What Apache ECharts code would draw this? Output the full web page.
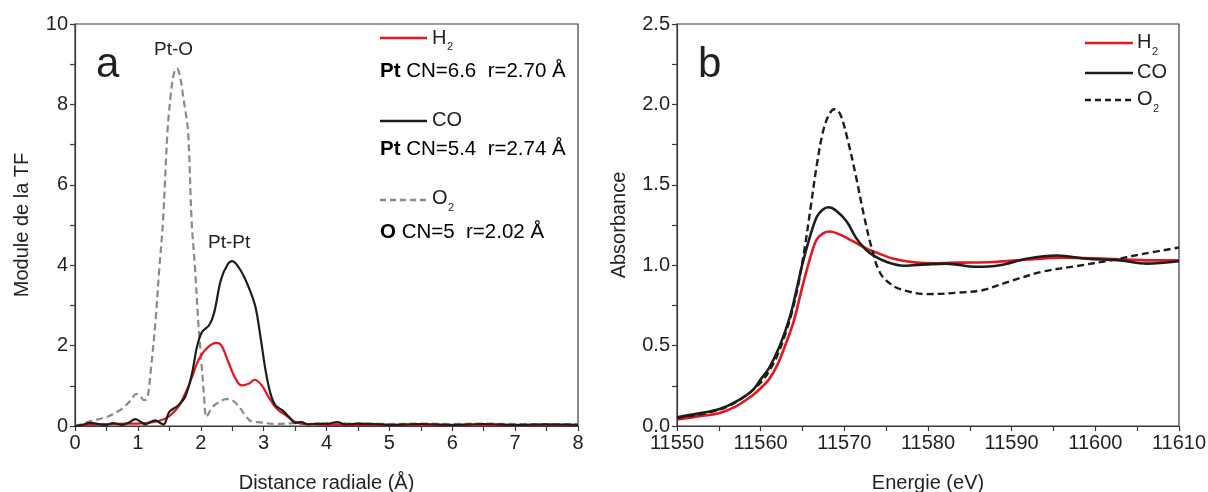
<!DOCTYPE html>
<html><head><meta charset="utf-8">
<script src="https://cdn.jsdelivr.net/npm/echarts@6/dist/echarts.min.js"></script>
<style>html,body{margin:0;padding:0;background:#fff}#c{width:1208px;height:492px}</style>
</head><body><div id="c"></div>
<script>
// ---- Panel a : Fourier transform modulus ----
const aH2_r = [0,0.2,0.4,0.6,0.8,1.0,1.1,1.26,1.4,1.48,1.56,1.64,1.72,1.8,1.88,1.96,2.04,2.12,2.2,2.25,2.33,2.43,2.54,2.65,2.76,2.86,2.97,3.08,3.21,3.35,3.48,3.6,3.8,4.0,4.5,5,5.5,6,6.5,7,7.5,8];
const aH2_v = [0,0.02,0.04,0.05,0.06,0.06,0.07,0.1,0.16,0.22,0.33,0.47,0.7,0.97,1.3,1.63,1.83,1.97,2.05,2.07,2.0,1.63,1.22,1.01,1.05,1.15,1.01,0.72,0.43,0.27,0.12,0.06,0.04,0.03,0.03,0.02,0.02,0.02,0.02,0.02,0.02,0.02];
const aCO_r = [0,0.1,0.25,0.4,0.5,0.6,0.75,0.85,0.96,1.05,1.12,1.2,1.28,1.35,1.41,1.5,1.64,1.75,1.86,1.94,2.02,2.13,2.21,2.32,2.42,2.5,2.63,2.76,2.87,2.95,3.03,3.11,3.19,3.3,3.43,3.5,3.6,3.7,3.85,4.0,4.17,4.3,4.5,4.8,5,5.5,6,6.5,7,7.5,8];
const aCO_v = [0,0.02,0.08,0.04,0.03,0.07,0.03,0.08,0.17,0.1,0.04,0.1,0.14,0.08,0.04,0.35,0.51,0.72,1.3,1.97,2.34,2.5,2.8,3.63,4.0,4.1,3.88,3.46,2.96,2.22,1.39,0.8,0.51,0.39,0.18,0.08,0.1,0.04,0.06,0.05,0.1,0.04,0.06,0.05,0.03,0.05,0.03,0.05,0.03,0.04,0.03];
const aO2_r = [0,0.1,0.2,0.3,0.4,0.5,0.6,0.7,0.8,0.9,0.97,1.04,1.1,1.15,1.2,1.28,1.34,1.4,1.47,1.52,1.57,1.62,1.67,1.72,1.76,1.8,1.855,1.91,1.96,2.01,2.05,2.09,2.15,2.22,2.3,2.4,2.5,2.6,2.7,2.8,2.95,3.2,3.5,3.8,4.0,4.5,5,5.5,6,6.5,7,7.5,8];
const aO2_v = [0,0.04,0.1,0.14,0.18,0.22,0.29,0.38,0.5,0.66,0.8,0.74,0.64,0.7,1.3,2.6,3.9,5.1,7.3,8.2,8.75,8.9,8.7,8.2,7.8,7.3,5.1,3.9,2.6,1.6,0.8,0.22,0.38,0.52,0.6,0.67,0.64,0.5,0.28,0.12,0.09,0.05,0.07,0.05,0.07,0.06,0.05,0.06,0.05,0.06,0.05,0.05,0.05];

// ---- Panel b : XANES ----
const bH2_E = [11550,11552.5,11555,11557,11559,11560,11561,11562,11563,11564,11565,11566,11566.7,11567.5,11568.3,11569.5,11571,11572.8,11574,11575.9,11578.6,11581,11583.8,11587.8,11591.8,11595.8,11599.8,11603.8,11607,11610];
const bH2_A = [0.04,0.06,0.08,0.12,0.19,0.235,0.29,0.38,0.51,0.66,0.87,1.06,1.16,1.2,1.21,1.19,1.15,1.10,1.075,1.04,1.016,1.012,1.016,1.02,1.035,1.047,1.043,1.035,1.03,1.03];
const bCO_E = [11550,11552.5,11555,11557,11559,11560,11561,11562.3,11563.5,11564.3,11565,11565.9,11566.7,11567.4,11568.1,11569,11570.3,11571.4,11572.5,11573.5,11575.1,11577.1,11579.8,11582.2,11585.8,11588.6,11591.8,11595.4,11599,11603,11606.1,11610];
const bCO_A = [0.054,0.077,0.104,0.15,0.22,0.29,0.36,0.5,0.68,0.85,1.01,1.18,1.30,1.345,1.36,1.34,1.27,1.17,1.1,1.06,1.02,0.997,1.005,1.01,0.99,1.0,1.04,1.06,1.04,1.03,1.01,1.025];
const bO2_E = [11550,11555,11558,11560,11561,11562,11563,11563.8,11564.5,11565.3,11566,11566.7,11567.4,11568.1,11568.8,11569.5,11570.4,11571.4,11572.3,11573.2,11574.3,11575.9,11577.8,11579.8,11583.8,11586.6,11589.8,11593.7,11597.8,11601.8,11605.7,11610];
const bO2_A = [0.05,0.10,0.18,0.27,0.34,0.44,0.58,0.72,0.88,1.12,1.37,1.62,1.82,1.93,1.97,1.94,1.78,1.55,1.32,1.12,0.95,0.87,0.835,0.82,0.83,0.846,0.90,0.96,0.995,1.03,1.07,1.11];

const zip = (xs, ys) => xs.map((x, i) => [x, ys[i]]);
const RED = '#e5161f', BLACK = '#1d1d1b', GREY = '#8a8a8c', TXT = '#231f20';
const FONT = 'Liberation Sans';

function axisCommon() {
  return {
    axisLine: { show: true, lineStyle: { color: '#3a3a3a', width: 1.2 } },
    axisTick: { show: true, inside: false, length: 5, lineStyle: { color: '#3a3a3a', width: 1.2 } },
    splitLine: { show: false },
    axisLabel: { color: TXT, fontFamily: FONT, fontSize: 20, margin: 7 },
    nameTextStyle: { color: TXT, fontFamily: FONT, fontSize: 20 },
    nameLocation: 'middle'
  };
}
function mk(extra) { const b = axisCommon(); return Object.assign(b, extra, { axisLabel: Object.assign(b.axisLabel, extra.axisLabel || {}) }); }

const chart = echarts.init(document.getElementById('c'), null, { renderer: 'canvas' });
const line = (name, xi, yi, data, color, dash, w) => ({
  name, type: 'line', xAxisIndex: xi, yAxisIndex: yi, data, smooth: 0.35, showSymbol: false,
  lineStyle: { color, width: w, type: dash ? [7, 4] : 'solid' }, silent: true, clip: true
});

const option = {
  animation: false,
  backgroundColor: '#fff',
  grid: [
    { left: 75, top: 24, width: 503, height: 402, show: true, borderColor: '#3a3a3a', borderWidth: 1.2, containLabel: false, outerBoundsMode: 'none' },
    { left: 677, top: 24, width: 502, height: 402, show: true, borderColor: '#3a3a3a', borderWidth: 1.2, containLabel: false, outerBoundsMode: 'none' }
  ],
  xAxis: [
    mk({ gridIndex: 0, type: 'value', min: 0, max: 8, interval: 0.5, name: 'Distance radiale (Å)', nameGap: 47,
      axisLabel: { formatter: v => Number.isInteger(v) ? String(v) : '' } }),
    mk({ gridIndex: 1, type: 'value', min: 11550, max: 11610, interval: 5, name: 'Energie (eV)', nameGap: 47,
      axisLabel: { formatter: v => (v % 10 === 0) ? String(v) : '' } })
  ],
  yAxis: [
    mk({ gridIndex: 0, type: 'value', min: 0, max: 10, interval: 1, name: 'Module de la TF', nameGap: 43,
      axisLabel: { formatter: v => (v % 2 === 0) ? String(v) : '' } }),
    mk({ gridIndex: 1, type: 'value', min: 0, max: 2.5, interval: 0.25, name: 'Absorbance', nameGap: 48,
      axisLabel: { formatter: v => (Math.abs(v * 2 - Math.round(v * 2)) < 1e-9) ? v.toFixed(1) : '' } })
  ],
  series: [
    line('O2 a', 0, 0, zip(aO2_r, aO2_v), GREY, true, 2.2),
    line('H2 a', 0, 0, zip(aH2_r, aH2_v), RED, false, 2.2),
    line('CO a', 0, 0, zip(aCO_r, aCO_v), BLACK, false, 2.2),
    line('H2 b', 1, 1, zip(bH2_E, bH2_A), RED, false, 2.6),
    line('O2 b', 1, 1, zip(bO2_E, bO2_A), BLACK, true, 2.4),
    line('CO b', 1, 1, zip(bCO_E, bCO_A), BLACK, false, 2.6)
  ],
  graphic: (function () {
    const g = [];
    const t = (x, y, text, size, extra) => g.push({ type: 'text', left: x, top: y, style: Object.assign({ text, fill: TXT, font: `${size}px "${FONT}"` }, extra || {}) });
    const tb = (x, y, bold, rest, size) => g.push({ type: 'text', left: x, top: y, style: { text: `{b|${bold}}{n|${rest}}`, rich: { b: { fontFamily: FONT, fontSize: size, fontWeight: 'bold', color: TXT }, n: { fontFamily: FONT, fontSize: size, color: TXT } } } });
    const l = (x1, x2, y, color, dash, w) => g.push({ type: 'line', shape: { x1, y1: y, x2, y2: y }, style: { stroke: color, lineWidth: w, lineDash: dash ? [6, 4] : null } });
    // panel letters & peak labels
    t(96, 44, 'a', 42);
    t(698, 44, 'b', 42);
    t(154, 40, 'Pt-O', 19);
    t(208, 233, 'Pt-Pt', 19);
    // panel a legend
    l(380, 427, 38, RED, false, 2.6);
    t(432, 28, 'H', 20); t(447, 41, '2', 11);
    tb(380, 61, 'Pt', ' CN=6.6  r=2.70 Å', 20.5);
    l(380, 427, 121, BLACK, false, 2.6);
    t(432, 110, 'CO', 20);
    tb(380, 139, 'Pt', ' CN=5.4  r=2.74 Å', 20.5);
    l(380, 427, 200, GREY, true, 2.6);
    t(432, 188, 'O', 20); t(448, 202, '2', 11);
    tb(380, 222, 'O', ' CN=5  r=2.02 Å', 20.5);
    // panel b legend
    l(1085, 1133, 43, RED, false, 2.6);
    t(1137, 32, 'H', 20); t(1152, 46, '2', 11);
    l(1085, 1133, 73, BLACK, false, 2.6);
    t(1137, 62, 'CO', 20);
    l(1085, 1133, 100, BLACK, true, 2.6);
    t(1137, 89, 'O', 20); t(1153, 103, '2', 11);
    return g;
  })()
};
chart.setOption(option);
</script></body></html>
